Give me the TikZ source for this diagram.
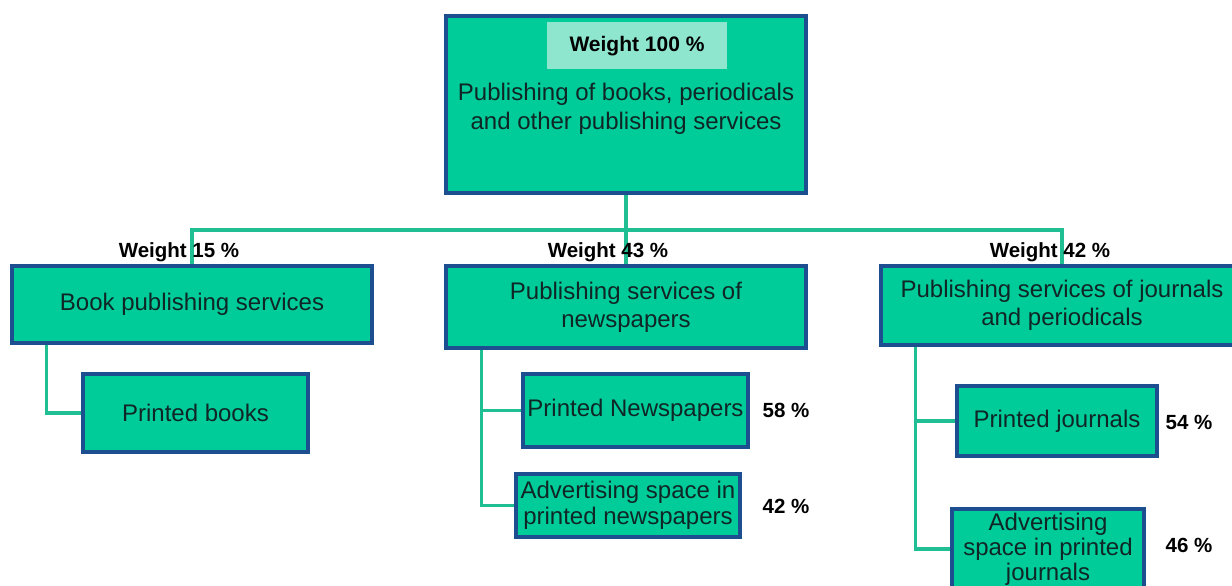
\documentclass[tikz,border=0pt]{standalone}
\usepackage{fontspec}
\setmainfont{Liberation Sans}
\definecolor{boxfill}{HTML}{00CC99}
\definecolor{boxline}{HTML}{1D4E8F}
\definecolor{linkgreen}{HTML}{1FBF93}
\definecolor{tagfill}{HTML}{8FE6CF}
\definecolor{boxtext}{HTML}{102626}
\begin{document}
\begin{tikzpicture}[x=1pt, y=-1pt,
    box/.style={rectangle, draw=boxline, fill=boxfill, line width=3.4pt, inner sep=0pt, align=center, text=boxtext, font=\fontsize{24}{28}\selectfont},
    link/.style={draw=linkgreen, line width=3.6pt},
    weight/.style={font=\fontsize{20.5}{24}\selectfont\bfseries, inner sep=0pt},
    share/.style={font=\fontsize{20.5}{24}\selectfont\bfseries, inner sep=0pt},
]
\useasboundingbox (0,0) rectangle (1232,586);
\fill[white] (0,0) rectangle (1232,586);

\coordinate (bus) at (626,230);

% boxes
\node[box, minimum width=360pt, minimum height=177pt] (top) at (626,104.5) {};
\node[rectangle, fill=tagfill, minimum width=180pt, minimum height=47pt, inner sep=0pt, font=\fontsize{21}{24}\selectfont\bfseries] (w100) at (637,46) {Weight 100 \%};
\node[align=center, text=boxtext, inner sep=0pt, font=\fontsize{24}{29}\selectfont] (toptext) at (626,109) {Publishing of books, periodicals\\and other publishing services};

\node[box, minimum width=360pt, minimum height=77pt] (book) at (192,304.5) {Book publishing services};
\node[box, minimum width=360pt, minimum height=82pt] (news) at (626,307) {Publishing services of\\newspapers};
\node[box, minimum width=362pt, minimum height=79pt] (journ) at (1062,305.5) {Publishing services of journals\\and periodicals};

\node[box, minimum width=225pt, minimum height=78pt] (pbooks) at (195.5,413) {Printed books};
\node[box, minimum width=225pt, minimum height=73pt] (pnews) at (635.5,410.5) {Printed Newspapers};
\node[box, minimum width=224pt, minimum height=63pt, font=\fontsize{24}{26}\selectfont] (adnews) at (628,505.5) {Advertising space in\\printed newspapers};
\node[box, minimum width=200pt, minimum height=70pt] (pjourn) at (1057,421) {Printed journals};
\node[box, minimum width=192pt, minimum height=80pt, font=\fontsize{24}{25}\selectfont] (adjourn) at (1048,549) {Advertising\\space in printed\\journals};

% links
\draw[link] (top.south) -- (news.north);
\draw[link] (book.north) |- (bus) -| (journ.north);
\draw[link] ([xshift=36pt]book.south west) |- (pbooks.west);
\draw[link] ([xshift=37pt]news.south west) |- (pnews.west);
\draw[link] ([xshift=37pt]news.south west) |- (adnews.west);
\draw[link] ([xshift=36pt]journ.south west) |- (pjourn.west);
\draw[link] ([xshift=36pt]journ.south west) |- (adjourn.west);

% weights and shares
\node[weight] (w15) at (179,252) {Weight 15 \%};
\node[weight] (w43) at (608,252) {Weight 43 \%};
\node[weight] (w42) at (1050,252) {Weight 42 \%};

\node[share] (s58) at (786,410) {58 \%};
\node[share] (s42) at (786,506) {42 \%};
\node[share] (s54) at (1189,422) {54 \%};
\node[share] (s46) at (1189,545) {46 \%};
\end{tikzpicture}
\end{document}
